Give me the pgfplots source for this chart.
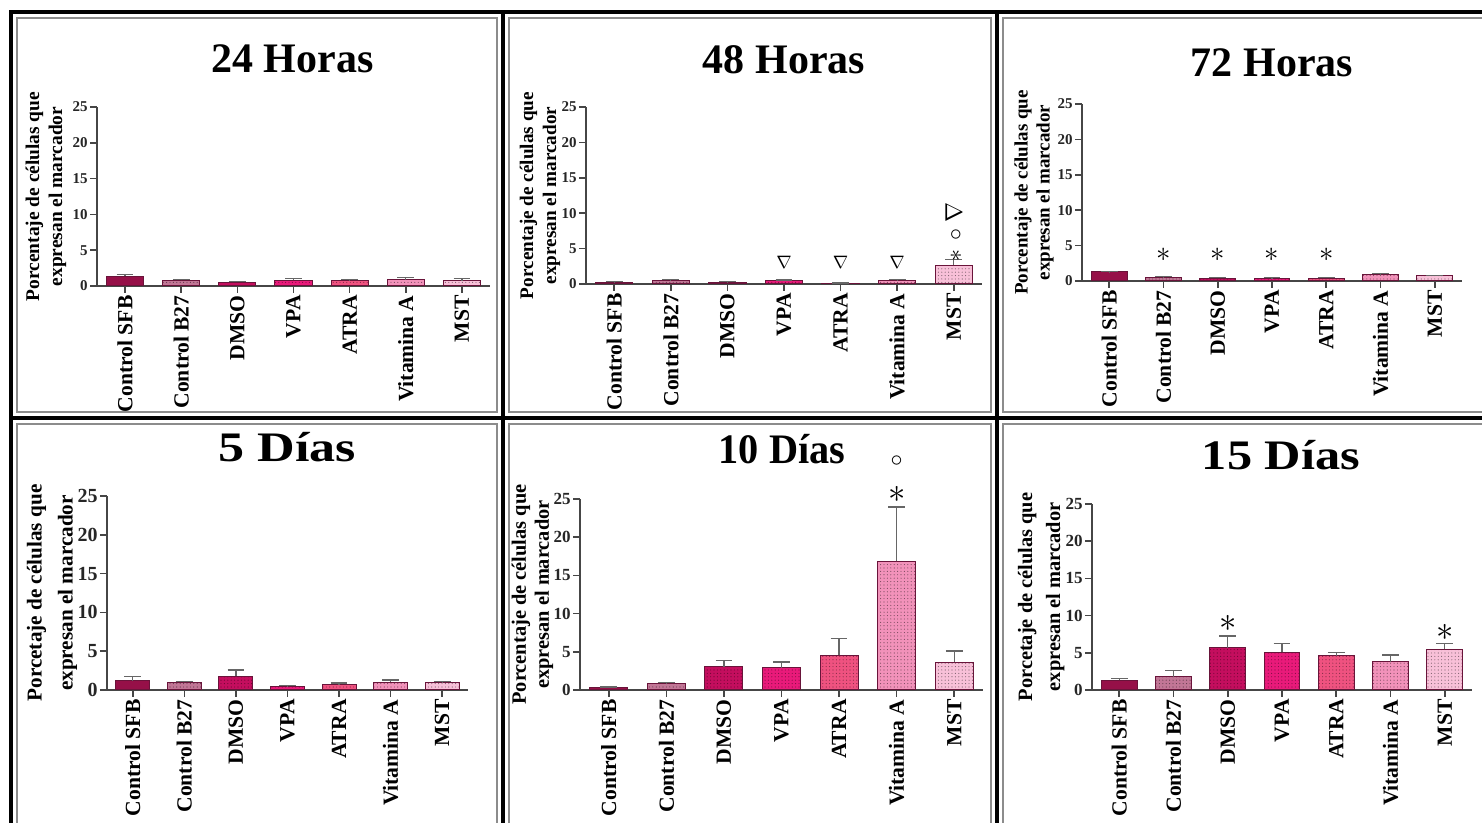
\documentclass[border=0pt]{standalone}
\usepackage{pgfplots}
\pgfplotsset{compat=1.18}
\usepackage{pgfplotstable}
\usetikzlibrary{patterns.meta}
\usepackage{fontspec}
\setmainfont{Liberation Serif}

\definecolor{cSFB}{RGB}{150,16,72}
\definecolor{cBB}{RGB}{194,118,150}
\definecolor{cDMSO}{RGB}{196,14,94}
\definecolor{cVPA}{RGB}{233,26,122}
\definecolor{cATRA}{RGB}{239,82,128}
\definecolor{cVitA}{RGB}{242,146,186}
\definecolor{cMST}{RGB}{248,192,216}
\definecolor{edge}{RGB}{105,20,58}
\definecolor{axgray}{RGB}{70,70,70}

% mean and SEM (upper error) per treatment
\pgfplotstableread{
x y e
0 1.36 0.28
1 0.80 0.15
2 0.53 0.14
3 0.80 0.28
4 0.70 0.20
5 0.84 0.29
6 0.75 0.25
}\tA
\pgfplotstableread{
x y e
0 0.25 0.05
1 0.47 0.13
2 0.28 0.07
3 0.47 0.09
4 0.10 0.04
5 0.47 0.13
6 2.68 0.75
}\tB
\pgfplotstableread{
x y e
0 1.27 0.05
1 0.52 0.09
2 0.42 0.10
3 0.42 0.05
4 0.42 0.10
5 0.85 0.23
6 0.71 0.09
}\tC
\pgfplotstableread{
x y e
0 1.20 0.52
1 0.99 0.12
2 1.80 0.77
3 0.47 0.09
4 0.69 0.21
5 1.03 0.26
6 0.94 0.17
}\tD
\pgfplotstableread{
x y e
0 0.35 0.04
1 0.79 0.17
2 3.05 0.83
3 2.88 0.78
4 4.54 2.18
5 16.84 7.11
6 3.62 1.48
}\tE
\pgfplotstableread{
x y e
0 1.30 0.27
1 1.80 0.80
2 5.70 1.56
3 5.07 1.23
4 4.60 0.47
5 3.80 0.90
6 5.50 0.77
}\tF

\tikzset{
  dotted fill/.style={postaction={pattern={Dots[distance=1.7pt,radius=0.28pt]}, pattern color=#1}},
}
\pgfplotsset{
  bar0/.style={fill=cSFB, draw=edge, line width=0.5pt},
  bar1/.style={fill=cBB, draw=edge, line width=0.5pt, dotted fill=cBB!50!black},
  bar2/.style={fill=cDMSO, draw=edge, line width=0.5pt, dotted fill=cDMSO!55!black},
  bar3/.style={fill=cVPA, draw=edge, line width=0.5pt, dotted fill=cVPA!55!black},
  bar4/.style={fill=cATRA, draw=edge, line width=0.5pt, dotted fill=cATRA!55!black},
  bar5/.style={fill=cVitA, draw=edge, line width=0.5pt, dotted fill=cVitA!50!black},
  bar6/.style={fill=cMST, draw=edge, line width=0.5pt, dotted fill=cMST!50!black},
  panel/.style={
    scale only axis, anchor=south west, clip=false,
    xmin=-0.5, xmax=6.5, ymin=0, ymax=25,
    xtick={0,...,6}, ytick={0,5,...,25},
    xticklabels={Control SFB,Control B27,DMSO,VPA,ATRA,Vitamina A,MST},
    axis lines=left,
    axis line style={-, draw=axgray, line width=0.8pt},
    major tick style={draw=axgray, line width=0.8pt},
    major tick length=3.5pt, tick align=outside,
    xticklabel style={rotate=90, anchor=east, inner sep=1pt,
      font=\bfseries\fontsize{10.8pt}{12pt}\selectfont},
    yticklabel style={inner sep=1pt, text=black!85},
    /pgf/number format/assume math mode=true,
    bar width=0.66,
  },
  ylab/.style n args={3}{every axis y label/.style={
      at={(axis description cs:#1,0.5)}, rotate=90, anchor=center,
      align=center, font=\bfseries\fontsize{#2}{#3}\selectfont}},
}

\newcommand\drawbars[1]{%
  \pgfplotsinvokeforeach{0,...,6}{%
    \addplot[ybar, bar shift=0pt, bar##1,
      x filter/.expression={x==##1 ? x : nan},
      error bars/.cd, y dir=plus, y explicit,
      error bar style={line width=0.6pt, draw=black!60},
      error mark options={rotate=90, mark size=4.2pt, line width=0.6pt, draw=black!60}]
      table[x=x, y=y, y error=e] {#1};
  }%
}
\newcommand\ttl{\bfseries\fontsize{21pt}{24pt}\selectfont}

\begin{document}
\begin{tikzpicture}
\useasboundingbox (0,0) rectangle (741pt,411.5pt);
\fill[white] (0,0) rectangle (741pt,411.5pt);
\clip (0,0) rectangle (741pt,411.5pt);

% ---- 24 Horas
\begin{axis}[panel, at={(48.5pt,268.5pt)}, width=196.5pt, height=89.5pt,
  yticklabel style={font=\bfseries\fontsize{7.5pt}{8pt}\selectfont},
  ylab={-0.130}{9.7pt}{11.5pt},
  ylabel={Porcentaje de células que\\expresan el marcador}]
\drawbars{\tA}
\end{axis}

% ---- 48 Horas
\begin{axis}[panel, at={(293pt,269.5pt)}, width=198pt, height=88.5pt,
  yticklabel style={font=\bfseries\fontsize{7.5pt}{8pt}\selectfont},
  ylab={-0.116}{9.6pt}{11.5pt},
  ylabel={Porcentaje de células que\\expresan el marcador}]
\drawbars{\tB}
\pgfplotsinvokeforeach{3,4,5}{%
  \node[font=\fontsize{9pt}{9pt}\selectfont] at (axis cs:#1,3.0) {$\nabla$};
}
\node[rotate=90, font=\fontsize{12.5pt}{12.5pt}\selectfont, inner sep=0pt] at (axis cs:6,7.3) {$\ast\,\circ\nabla$};
\end{axis}

% ---- 72 Horas
\begin{axis}[panel, at={(541pt,271pt)}, width=190pt, height=88.5pt,
  yticklabel style={font=\bfseries\fontsize{7.5pt}{8pt}\selectfont},
  ylab={-0.126}{9.5pt}{11pt},
  ylabel={Porcentaje de células que\\expresan el marcador}]
\drawbars{\tC}
\pgfplotsinvokeforeach{1,2,3,4}{%
  \node[font=\fontsize{15pt}{15pt}\selectfont] at (axis cs:#1,3.67) {$\ast$};
}
\end{axis}

% ---- 5 Dias
\begin{axis}[panel, at={(53.5pt,66.5pt)}, width=180.5pt, height=97pt,
  yticklabel style={font=\bfseries\fontsize{10pt}{10pt}\selectfont},
  ylab={-0.152}{10.6pt}{15.5pt},
  ylabel={Porcetaje de células que\\expresan el marcador}]
\drawbars{\tD}
\end{axis}

% ---- 10 Dias
\begin{axis}[panel, at={(290pt,66.5pt)}, width=201.5pt, height=95.5pt,
  yticklabel style={font=\bfseries\fontsize{8.5pt}{9pt}\selectfont},
  ylab={-0.118}{10.2pt}{11.5pt},
  ylabel={Porcentaje de células que\\expresan el marcador}]
\drawbars{\tE}
\node[font=\fontsize{19pt}{19pt}\selectfont, inner sep=0pt] at (axis cs:5,25.6) {$\ast$};
\node[font=\fontsize{12pt}{12pt}\selectfont, inner sep=0pt] at (axis cs:5,29.9) {$\circ$};
\end{axis}

% ---- 15 Dias
\begin{axis}[panel, at={(546pt,66.5pt)}, width=190pt, height=93pt,
  yticklabel style={font=\bfseries\fontsize{8.5pt}{9pt}\selectfont},
  ylab={-0.134}{10.2pt}{14pt},
  ylabel={Porcetaje de células que\\expresan el marcador}]
\drawbars{\tF}
\node[font=\fontsize{19pt}{19pt}\selectfont] at (axis cs:2,9.0) {$\ast$};
\node[font=\fontsize{19pt}{19pt}\selectfont] at (axis cs:6,7.8) {$\ast$};
\end{axis}

% panel titles
\node[anchor=base, font=\ttl] at (146.25pt,375pt) {24 Horas};
\node[anchor=base, font=\ttl] at (392pt,374.5pt) {48 Horas};
\node[anchor=base, font=\ttl] at (636pt,373pt) {72 Horas};
\node[anchor=base, font=\ttl, xscale=1.24] at (143.75pt,180.5pt) {5 Días};
\node[anchor=base, font=\ttl, xscale=0.96] at (391pt,179.5pt) {10 Días};
\node[anchor=base, font=\ttl, xscale=1.2] at (640.5pt,176.5pt) {15 Días};

% panel frames
\begin{scope}[draw=black!45, line width=0.6pt]
  \draw (8.5pt,205.5pt) rectangle (248.5pt,402.5pt);
  \draw (254.5pt,205.5pt) rectangle (495.5pt,402.5pt);
  \draw (501.5pt,205.5pt) rectangle (745pt,402.5pt);
  \draw (8.5pt,-5pt) rectangle (248.5pt,199.5pt);
  \draw (254.5pt,-5pt) rectangle (495.5pt,199.5pt);
  \draw (501.5pt,-5pt) rectangle (745pt,199.5pt);
\end{scope}
\begin{scope}[line width=2pt]
  \draw (5.5pt,-2pt) -- (5.5pt,405.5pt) -- (745pt,405.5pt);
  \draw (251.5pt,-2pt) -- (251.5pt,405.5pt);
  \draw (498.5pt,-2pt) -- (498.5pt,405.5pt);
  \draw (5.5pt,202.5pt) -- (745pt,202.5pt);
\end{scope}
\end{tikzpicture}
\end{document}
